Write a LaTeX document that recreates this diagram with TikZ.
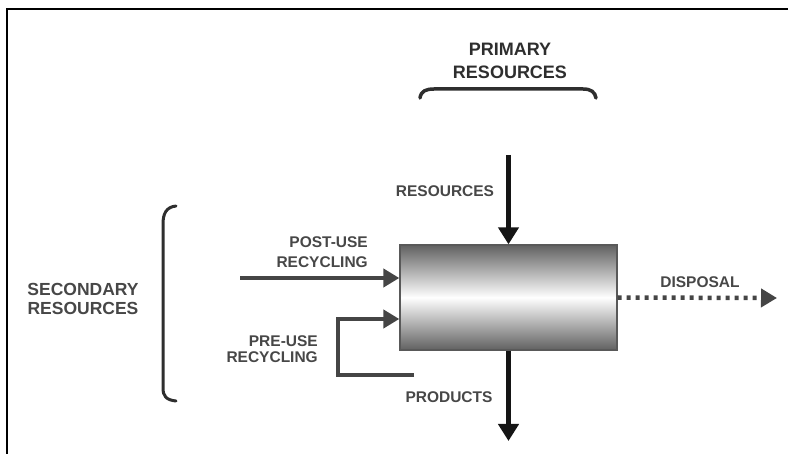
\documentclass[tikz,border=0pt]{standalone}
\usepackage{fontspec}
\setmainfont{Liberation Sans}
\usetikzlibrary{arrows.meta}
\definecolor{lbl}{HTML}{474747}
\definecolor{dk}{HTML}{2E2E2E}
\definecolor{arr}{HTML}{151515}
\definecolor{garr}{HTML}{454545}
\tikzset{
  lab/.style={inner sep=0pt, text=lbl, font=\bfseries\fontsize{15.5}{20}\selectfont},
  bigarrow/.style={draw=arr, line width=4.5pt, -{Triangle[length=17pt, width=20pt]}},
  grayarrow/.style={draw=garr, line width=4.5pt, -{Triangle[length=16pt, width=18pt]}},
  dotarrow/.style={draw=garr, line width=4.5pt, dash pattern=on 4pt off 5pt, -{Triangle[length=16pt, width=18pt]}},
  bracestyle/.style={draw=dk, line width=3pt, line cap=round},
  procbox/.style={draw=black!65, line width=1.3pt, minimum width=217pt, minimum height=105pt,
    top color=black!62, bottom color=black!62, middle color=white, inner sep=0pt}
}
\begin{document}
\begin{tikzpicture}[x=1pt, y=-1pt]
\useasboundingbox (0,0) rectangle (788,454);
% frame
\coordinate (fa) at (788,9);
\coordinate (fb) at (7,9);
\coordinate (fc) at (7,454);
\draw[line width=2pt, black] (fa) -- (fb) -- (fc);

% process box
\node[procbox] (proc) at (508.5,297.5) {};

% primary resources
\node[inner sep=0pt, text=dk, font=\bfseries\fontsize{18}{23}\selectfont, align=center] (prim) at (510,61) {PRIMARY\\RESOURCES};
\draw[bracestyle, line width=3.5pt] (420,98) .. controls (421,91) and (426,89) .. (434,89) -- (583,89) .. controls (591,89) and (595,92) .. (596,98);

% resources arrow
\coordinate (rs) at (508.5,155);
\draw[bigarrow] (rs) -- (proc.north);
\node[lab] (reslab) at (445,191) {RESOURCES};

% products arrow
\coordinate (pe) at (508.5,441);
\draw[bigarrow] (proc.south) -- (pe);
\node[lab] (prodlab) at (449,397) {PRODUCTS};

% post-use recycling
\coordinate (pu) at (240,278);
\draw[grayarrow] (pu) -- (pu -| proc.west);
\node[lab, align=right, anchor=east] (postlab) at (368,252) {POST-USE\\RECYCLING};

% pre-use recycling
\coordinate (pr) at (414,375);
\coordinate (pc) at (338,375);
\coordinate (pt) at (338,319);
\draw[grayarrow] (pr) -- (pc) -- (pt) -- (pt -| proc.west);
\node[lab, align=right, anchor=east, font=\bfseries\fontsize{15.5}{16}\selectfont] (prelab) at (318,349) {PRE-USE\\RECYCLING};

% disposal
\coordinate (dis) at (777,298);
\draw[dotarrow] (proc.east) -- (dis);
\node[lab] (dislab) at (700,282) {DISPOSAL};

% secondary resources
\node[lab, align=center, font=\bfseries\fontsize{17.5}{19}\selectfont] (seclab) at (83,299) {SECONDARY\\RESOURCES};
\draw[bracestyle] (176,206) .. controls (166,207) and (163,214) .. (163,224) -- (163,388) .. controls (163,396) and (166,400) .. (176,401);
\end{tikzpicture}
\end{document}
